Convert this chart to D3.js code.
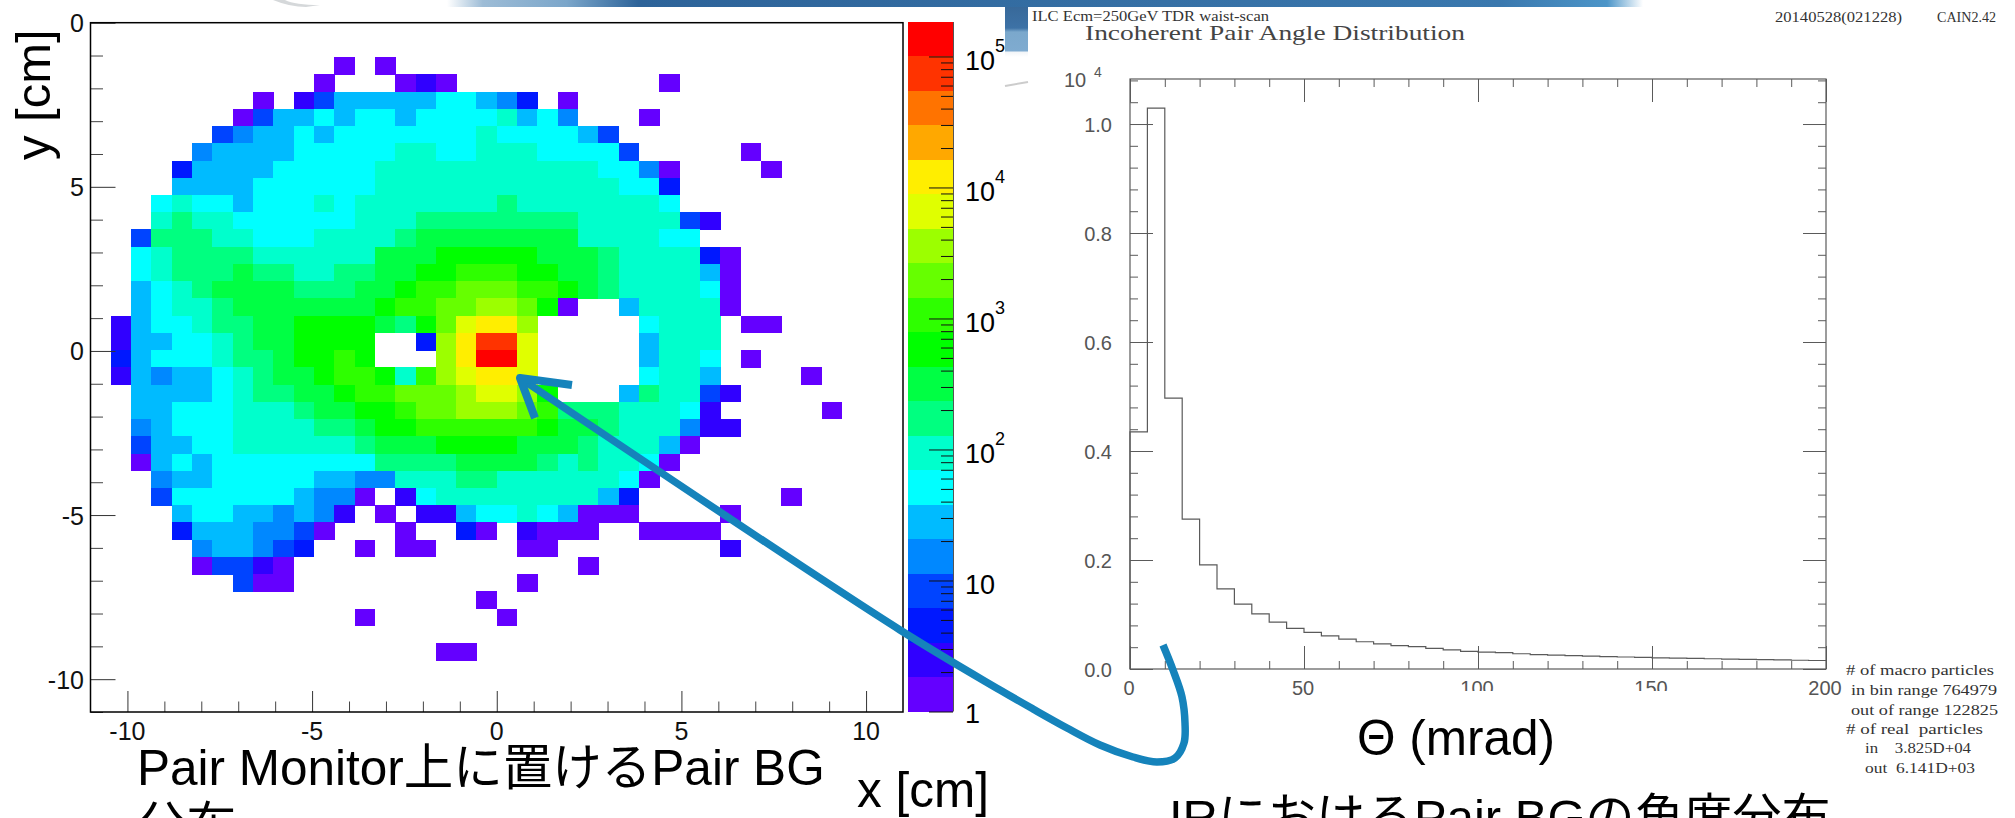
<!DOCTYPE html>
<html><head><meta charset="utf-8">
<script src="https://cdn.jsdelivr.net/npm/d3@7/dist/d3.min.js"></script>
<style>html,body{margin:0;padding:0;background:#fff}svg{display:block}</style>
</head><body><svg id="c" width="2015" height="818"></svg>
<script>
// ---- left chart data: colour band per bin, [row, first column, bands] ('.' = empty, a = lowest band, t = highest)
const bandRows = [
 [2,12,"a.a"],
 [3,11,"a...aba..........a"],
 [4,8,"a.bdfffffggfec.a"],
 [5,7,"adffgfggfgggghfge...a"],
 [6,6,"deffgfggggggghggggfd"],
 [7,5,"effffggggghhgghhhggggd.....a"],
 [8,4,"cffffggggghhhhhhhhhhhggea....a"],
 [9,4,"ffffgggggghhhhhhhhhhhhggc"],
 [10,3,"ghggfggghghhhhhhhihhhhhhhg"],
 [11,3,"hihhgggggghhhiiiiiiiihhhhhdb"],
 [12,2,"diiihhggghhhhijjjjjjjjhhhhgg"],
 [13,2,"ghiiiihhhhhhjjjkkkkkjjjihhhhca"],
 [14,2,"ghiiijiihhiijjkklllkkjjihhhhfa"],
 [15,2,"fghijjjjiiijjkllmmmllkjihhhhga"],
 [16,2,"fghhijjjjjjjkllmmnnmka..fhhhha"],
 [17,1,"bfgghiijjkkkkjikmoppn.....ghhh.aa"],
 [18,1,"bffgghijjkkkk..cnpsso.....fhhh"],
 [19,1,"cfggghiijkklk...nptto.....fhhg.a"],
 [20,1,"bfeffghijjkllkhlnoppo.....ghhf....a"],
 [21,2,"ffffghiijjkllmmmnoonk...fihhdb"],
 [22,2,"ffggghhhijjkklmmnnnmliiihhhgb.....a"],
 [23,2,"efggghhhhiijkkllllllkjjihhhebb"],
 [24,2,"dffgghhhhhhijjjkkkkjjjihhhfa"],
 [25,2,"afgfggggggggiiiijjjjihihhga"],
 [26,3,"effgggggffeehhhiihhhhhhga"],
 [27,3,"dggggggfeea.bghhhhhhhhfc.......a"],
 [28,4,"fggffefeb.a.bbfgghgfaaa....a"],
 [29,4,"cfffeeda...a..ca.baaa..aaaa"],
 [30,5,"effedc..a.aa....aa........b"],
 [31,5,"addba..............a"],
 [32,7,"daa...........a"],
 [33,19,"a"],
 [34,13,"a......a"],
 [36,17,"aa"]
];
const palette = ["#6400ff","#3000ff","#0018ff","#0044ff","#0088ff","#00bbff","#00ffff","#00ffcc","#00ff80","#00ff44",
                 "#00ff00","#2eff00","#66ff00","#9cff00","#e0ff00","#ffee00","#ffa800","#ff7300","#ff3300","#ff0000"];
const xTicksLeft = [-10,-5,0,5,10];
const yTicksLeft = [10,5,0,-5,-10];
const yTickLabelsLeft = ["0","5","0","-5","-10"];
const binCount = 40;
const cbDecades = [0,1,2,3,4,5];

// ---- right chart data: histogram, 5 mrad bins, in units of 10^4
const histValues = [0.435,1.029,0.497,0.275,0.191,0.147,0.119,0.101,0.086,0.0746,0.0673,0.0606,0.055,0.050,0.046,0.0428,
  0.041,0.038,0.035,0.0325,0.031,0.030,0.028,0.0265,0.0255,0.0245,0.0235,0.0228,0.022,0.0213,0.0205,0.020,0.0194,0.0188,
  0.0182,0.0176,0.0172,0.0166,0.0161,0.0156];
const histBin = 5;
const xTicksRight = [0,50,100,150,200];
const yTicksRight = [0,0.2,0.4,0.6,0.8,1.0];
const statLines = ["# of macro particles","in bin range 764979","out of range 122825","# of real  particles","in    3.825D+04","out  6.141D+03"];

const svg = d3.select("#c");
const sans = "'Liberation Sans',Arial,sans-serif";
const cjk = "'Liberation Sans','Noto Sans CJK JP',sans-serif";
const serif = "'Liberation Serif',serif";
const ink = "#555";

// ---- backdrop
const defs = svg.append("defs");
const bg = defs.append("linearGradient").attr("id","banner");
[[0,"#fff"],[0.03,"#9dbcd6"],[0.1,"#7ba6ca"],[0.16,"#2d6399"],[0.6,"#3670a5"],[0.88,"#3a78ae"],[0.97,"#4c95c8"],[1,"#fff"]]
  .forEach(s=>bg.append("stop").attr("offset",s[0]).attr("stop-color",s[1]));
svg.append("rect").attr("x",447).attr("y",0).attr("width",1196).attr("height",7).attr("fill","url(#banner)");
svg.append("path").attr("d","M273,0 Q290,7 306,7 L320,5 Q295,5 285,0Z").attr("fill","#d5d8da");
const bl = defs.append("linearGradient").attr("id","block").attr("x2",0).attr("y2",1);
[[0,"#38699a"],[0.42,"#3d72a6"],[0.5,"#7ba8cc"],[0.88,"#7fabd0"],[0.9,"#f2f5f8"],[1,"#fff"]]
  .forEach(s=>bl.append("stop").attr("offset",s[0]).attr("stop-color",s[1]));
svg.append("rect").attr("x",1005).attr("y",7).attr("width",23).attr("height",50).attr("fill","url(#block)");
svg.append("line").attr("x1",1005).attr("y1",86).attr("x2",1028).attr("y2",82).attr("stroke","#ccc").attr("stroke-width",2);

// ---- left chart
const x = d3.scaleLinear().domain([-11,11]).range([90.5,903]);
const y = d3.scaleLinear().domain([-11,10]).range([712,22.7]);
const dx = 22/binCount, dy = 21/binCount;
const cells = bandRows.flatMap(([row,col,s]) => Array.from(s).map((ch,k)=>({col:col+k,row,ch}))).filter(d=>d.ch!==".");
const bandIndex = ch => ch.charCodeAt(0)-97;
const heat = svg.append("g").attr("shape-rendering","crispEdges");
heat.selectAll("rect").data(cells).join("rect")
  .attr("x",d=>x(-11+d.col*dx)).attr("y",d=>y(10-d.row*dy))
  .attr("width",x(dx)-x(0)+0.4).attr("height",y(0)-y(dy)+0.4)
  .attr("fill",d=>palette[bandIndex(d.ch)]);

function styleAxis(g,color,w){
  g.select(".domain").remove();
  g.selectAll("line").attr("stroke",color).attr("stroke-width",w);
  g.selectAll("text").remove();
}
const rng = (a,b,s)=>d3.range(a,b+s/2,s);
function ticks(gen,pos,values,len,color,w){
  svg.append("g").attr("transform",pos).call(gen.tickValues(values).tickSize(-len).tickFormat("")).call(g=>styleAxis(g,color,w));
}
ticks(d3.axisLeft(y),"translate(90.5,0)",rng(-11,10,1).filter(v=>v%5),12.5,"#444",1);
ticks(d3.axisLeft(y),"translate(90.5,0)",yTicksLeft,25,"#333",1);
ticks(d3.axisBottom(x),"translate(0,712)",rng(-10,10,1).filter(v=>v%5),10.5,"#444",1);
ticks(d3.axisBottom(x),"translate(0,712)",xTicksLeft,21,"#333",1);
svg.append("rect").attr("x",90.5).attr("y",22.7).attr("width",812.5).attr("height",689.3)
  .attr("fill","none").attr("stroke","#000").attr("stroke-width",1.5);
svg.append("g").selectAll("text").data(xTicksLeft).join("text")
  .attr("x",d=>x(d)).attr("y",740).attr("text-anchor","middle")
  .attr("font-family",sans).attr("font-size",25).attr("fill","#111").text(d=>d);
svg.append("g").selectAll("text").data(yTicksLeft).join("text")
  .attr("x",84).attr("y",d=>y(d)+9.5).attr("text-anchor","end")
  .attr("font-family",sans).attr("font-size",25).attr("fill","#111").text((d,i)=>yTickLabelsLeft[i]);
svg.append("text").attr("transform","translate(50,160) rotate(-90)")
  .attr("font-family",sans).attr("font-size",49).attr("fill","#000").text("y [cm]");
svg.append("text").attr("x",857).attr("y",807)
  .attr("font-family",sans).attr("font-size",49.5).attr("fill","#000").text("x [cm]");

// ---- colour bar
const cb = d3.scaleLog().domain([1,Math.pow(10,5.263)]).range([711.5,22]);
const bandStep = 5.263/palette.length;
svg.append("g").attr("shape-rendering","crispEdges").selectAll("rect").data(palette).join("rect")
  .attr("x",908).attr("width",45)
  .attr("y",(d,i)=>cb(Math.pow(10,(i+1)*bandStep)))
  .attr("height",(d,i)=>cb(Math.pow(10,i*bandStep))-cb(Math.pow(10,(i+1)*bandStep)))
  .attr("fill",d=>d);
const cbMinor = cbDecades.slice(0,5).flatMap(e=>d3.range(2,10).map(m=>m*Math.pow(10,e)));
ticks(d3.axisRight(cb),"translate(953,0)",cbMinor,12,"#111",1);
ticks(d3.axisRight(cb),"translate(953,0)",cbDecades.map(e=>Math.pow(10,e)),24,"#111",1);
svg.append("line").attr("x1",953.5).attr("x2",953.5).attr("y1",22).attr("y2",711.5).attr("stroke","#555").attr("stroke-width",1);
svg.append("g").selectAll("text").data(cbDecades).join("text")
  .attr("x",965).attr("y",d=>cb(Math.pow(10,d))+(d===0?11:13.5))
  .attr("font-family",sans).attr("font-size",27).attr("fill","#000")
  .text(d=>d===0?"1":"10");
cbDecades.filter(d=>d>1).forEach(d=>{
  svg.append("text").attr("x",995).attr("y",cb(Math.pow(10,d))-4)
    .attr("font-family",sans).attr("font-size",18).attr("fill","#000").text(d);
});

// ---- right chart
const rx = d3.scaleLinear().domain([0,200]).range([1130,1826]);
const ry = d3.scaleLinear().domain([0,1.0826]).range([669,79]);
const histPoints = histValues.map((v,i)=>[i*histBin,v]);
histPoints.push([histValues.length*histBin,histValues[histValues.length-1]]);
const rInk = "#5a5a5a";
const minorX = rng(0,200,10).filter(v=>v%50);
const minorY = rng(0,1.08,0.04).filter(v=>Math.abs(v*5-Math.round(v*5))>1e-6);
ticks(d3.axisBottom(rx),"translate(0,669)",minorX,8,rInk,1);
ticks(d3.axisBottom(rx),"translate(0,669)",xTicksRight,23,rInk,1);
ticks(d3.axisTop(rx),"translate(0,79)",minorX,8,rInk,1);
ticks(d3.axisTop(rx),"translate(0,79)",xTicksRight,23,rInk,1);
ticks(d3.axisLeft(ry),"translate(1130,0)",minorY,8,rInk,1);
ticks(d3.axisLeft(ry),"translate(1130,0)",yTicksRight,23,rInk,1);
ticks(d3.axisRight(ry),"translate(1826,0)",minorY,8,rInk,1);
ticks(d3.axisRight(ry),"translate(1826,0)",yTicksRight,23,rInk,1);
svg.append("rect").attr("x",1130).attr("y",79).attr("width",696).attr("height",590)
  .attr("fill","none").attr("stroke",rInk).attr("stroke-width",1.2);
const line = d3.line().x(d=>rx(d[0])).y(d=>ry(d[1])).curve(d3.curveStepAfter);
svg.append("path").attr("d",line([[0,0]].concat(histPoints)))
  .attr("fill","none").attr("stroke",rInk).attr("stroke-width",1.2);
svg.append("g").selectAll("text").data(yTicksRight).join("text")
  .attr("x",1112).attr("y",d=>ry(d)+8).attr("text-anchor","end")
  .attr("font-family",sans).attr("font-size",20).attr("fill",ink).text(d=>d.toFixed(1));
svg.append("g").selectAll("text").data(xTicksRight).join("text")
  .attr("x",d=>rx(d)-1).attr("y",695).attr("text-anchor","middle")
  .attr("font-family",sans).attr("font-size",20).attr("fill",ink).text(d=>d);
svg.append("rect").attr("x",1340).attr("y",691).attr("width",360).attr("height",40).attr("fill","#fff");
svg.append("text").attr("x",1064).attr("y",87).attr("font-family",sans).attr("font-size",20).attr("fill",ink).text("10");
svg.append("text").attr("x",1094).attr("y",77).attr("font-family",sans).attr("font-size",14).attr("fill",ink).text("4");

function fit(txt,xx,yy,w,size,fill){
  svg.append("text").attr("x",xx).attr("y",yy).attr("textLength",w).attr("lengthAdjust","spacingAndGlyphs")
    .attr("font-family",serif).attr("font-size",size).attr("fill",fill).attr("xml:space","preserve").text(txt);
}
fit("ILC Ecm=250GeV TDR waist-scan",1032,21,237,15,"#333");
fit("Incoherent Pair Angle Distribution",1085,40,380,22,"#444");
fit("20140528(021228)",1775,22,127,15,"#333");
fit("CAIN2.42",1937,22,59,15,"#333");
const statGeom = [[1846,675,148],[1851,695,146],[1851,715,147],[1846,734,137],[1865,753,106],[1865,773,110]];
statLines.forEach((t,i)=>fit(t,statGeom[i][0],statGeom[i][1],statGeom[i][2],15,"#333"));

// ---- captions
svg.append("text").attr("x",137).attr("y",785).attr("font-family",cjk).attr("font-size",49.5).attr("fill","#000").text("Pair Monitor上に置けるPair BG");
svg.append("text").attr("x",137).attr("y",843).attr("font-family",cjk).attr("font-size",49.5).attr("fill","#000").text("分布");
svg.append("text").attr("x",1357).attr("y",755).attr("font-family",sans).attr("font-size",49.5).attr("fill","#000").text("Θ (mrad)");
svg.append("text").attr("x",1169).attr("y",834).attr("font-family",cjk).attr("font-size",49).attr("fill","#000").text("IRにおけるPair BGの角度分布");

// ---- annotation arrow
const arrowPath = [[1163,645],[1173,670],[1182,697],[1185,723],[1184,743],[1175,758],[1157,762],[1133,757],[1100,745],[1067,728],[1033,709],[1000,690],[900,630],[520,378]];
svg.append("path").attr("d",d3.line().curve(d3.curveCatmullRom.alpha(0.5))(arrowPath))
  .attr("fill","none").attr("stroke","#1583bb").attr("stroke-width",7.5);
svg.append("path").attr("d",d3.line()([[572,385],[520,378],[535,418]]))
  .attr("fill","none").attr("stroke","#1583bb").attr("stroke-width",8).attr("stroke-linejoin","round");
</script></body></html>
